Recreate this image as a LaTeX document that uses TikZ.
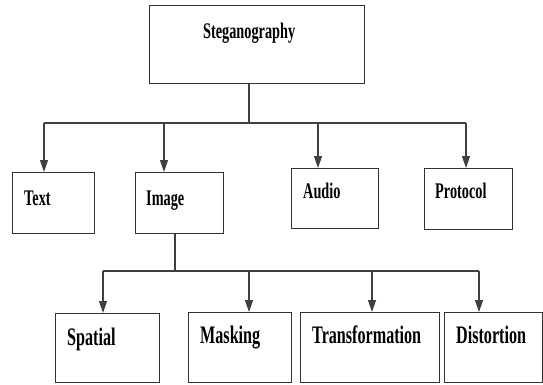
\documentclass[tikz,border=0pt]{standalone}
\usepackage{fontspec}
\setmainfont{Liberation Serif}[FakeStretch=0.64]
\usetikzlibrary{arrows.meta}

\tikzset{
    box/.style={draw=black!80, line width=1.4pt, anchor=north west, inner sep=0pt},
    lbl/.style={anchor=base west, inner sep=0pt, font=\fontsize{22.3}{24}\selectfont\bfseries},
    lblbig/.style={lbl, font=\fontsize{25.2}{28}\selectfont\bfseries},
    link/.style={draw=black!75, line width=1.2pt},
    arr/.style={link, -{Triangle[length=12pt,width=8pt]}}
}

\begin{document}
\begin{tikzpicture}[x=1pt,y=-1pt]

    \useasboundingbox (0,0) rectangle (543,385);

    \node[box, minimum width=215, minimum height=78] (steg) at (149,5) {};
    \node[lbl] (steglbl) at (203,39) {Steganography};

    \node[box, minimum width=82, minimum height=61] (text) at (12,172) {};
    \node[box, minimum width=88, minimum height=61] (image) at (135,172) {};
    \node[box, minimum width=87, minimum height=60] (audio) at (291,168) {};
    \node[box, minimum width=88, minimum height=61] (protocol) at (424,168) {};

    \node[lbl] (textlbl) at (24,205) {Text};
    \node[lbl] (imagelbl) at (146,205) {Image};
    \node[lbl] (audiolbl) at (303,198) {Audio};
    \node[lbl] (protocollbl) at (435,198) {Protocol};

    \node[box, minimum width=104, minimum height=69] (spatial) at (55,313) {};
    \node[box, minimum width=103, minimum height=70] (masking) at (188,312) {};
    \node[box, minimum width=139, minimum height=70] (transform) at (300,312) {};
    \node[box, minimum width=98, minimum height=70] (distortion) at (444,312) {};

    \node[lblbig] (spatiallbl) at (67,345) {Spatial};
    \node[lblbig] (maskinglbl) at (200,343) {Masking};
    \node[lblbig] (transformlbl) at (312,343) {Transformation};
    \node[lblbig] (distortionlbl) at (456,343) {Distortion};

    \coordinate (top) at (249,123);
    \coordinate (b1) at (44,123);
    \coordinate (b2) at (164,123);
    \coordinate (b3) at (318,123);
    \coordinate (b4) at (466,123);

    \draw[link] (steg.south -| top) -- (top);
    \draw[link] (b1) -- (b4);
    \foreach \c/\n in {b1/text, b2/image, b3/audio, b4/protocol}
        \draw[arr] (\c) -- (\c |- \n.north);

    \coordinate (sub) at (175,271);
    \coordinate (c1) at (103,271);
    \coordinate (c2) at (249,271);
    \coordinate (c3) at (372,271);
    \coordinate (c4) at (479,271);

    \draw[link] (image.south -| sub) -- (sub);
    \draw[link] (c1) -- (c4);
    \foreach \c/\n in {c1/spatial, c2/masking, c3/transform, c4/distortion}
        \draw[arr] (\c) -- (\c |- \n.north);

\end{tikzpicture}
\end{document}
